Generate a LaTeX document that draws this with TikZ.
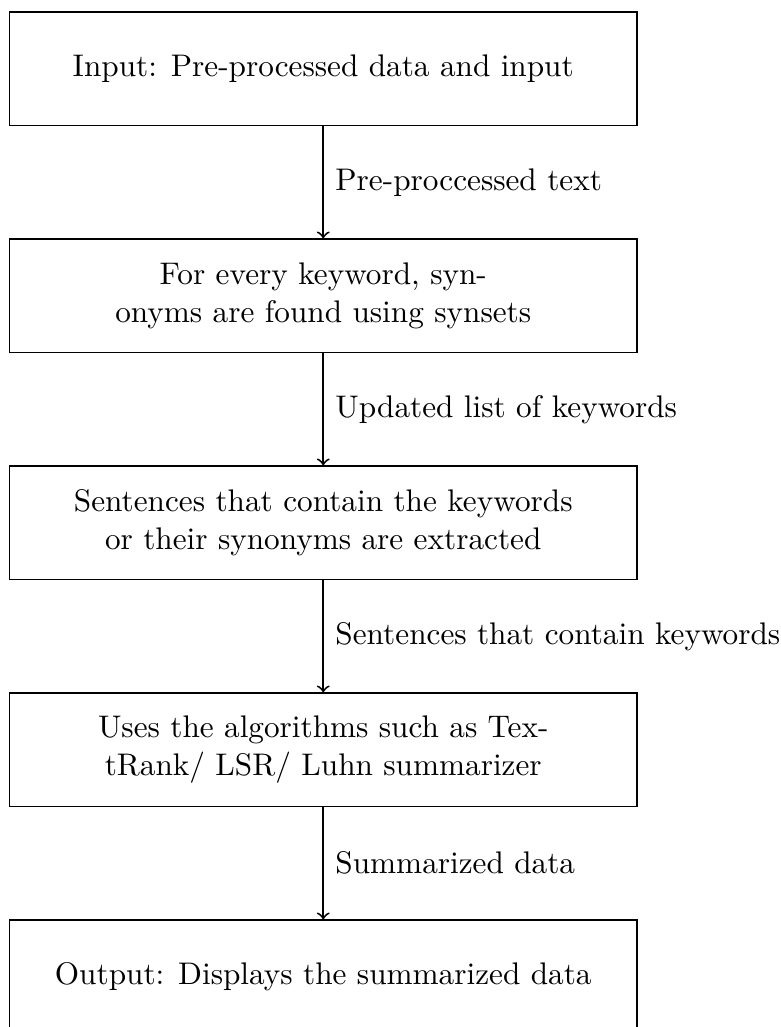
\documentclass[tikz,border=0pt]{standalone}
\begin{document}
\begin{tikzpicture}[x=0.32pt,y=-0.32pt,
  stage/.style={draw, line width=0.4pt, minimum width=200.8pt,
    minimum height=36.32pt, align=center, inner sep=0pt},
  flow/.style={->, semithick},
  flowlabel/.style={right, inner sep=3.6pt}]
  % page frame; the last stage runs past the lower edge
  \useasboundingbox (0,0) rectangle (781,1027);
  \clip (0,0) rectangle (781,1027);

  % processing stages
  \node[stage] (s1) at (323.25,68.75)  {Input: Pre-processed data and input};
  \node[stage] (s2) at (323.25,295.75) {For every keyword, syn-\\onyms are found using synsets};
  \node[stage] (s3) at (323.25,522.75) {Sentences that contain the keywords\\or their synonyms are extracted};
  \node[stage] (s4) at (323.25,749.75) {Uses the algorithms such as Tex-\\tRank/ LSR/ Luhn summarizer};
  \node[stage] (s5) at (323.25,976.75) {Output: Displays the summarized data};

  % data passed between stages
  \draw[flow] (s1) -- node[flowlabel] {Pre-proccessed text} (s2);
  \draw[flow] (s2) -- node[flowlabel] {Updated list of keywords} (s3);
  \draw[flow] (s3) -- node[flowlabel] {Sentences that contain keywords} (s4);
  \draw[flow] (s4) -- node[flowlabel] {Summarized data} (s5);
\end{tikzpicture}
\end{document}
